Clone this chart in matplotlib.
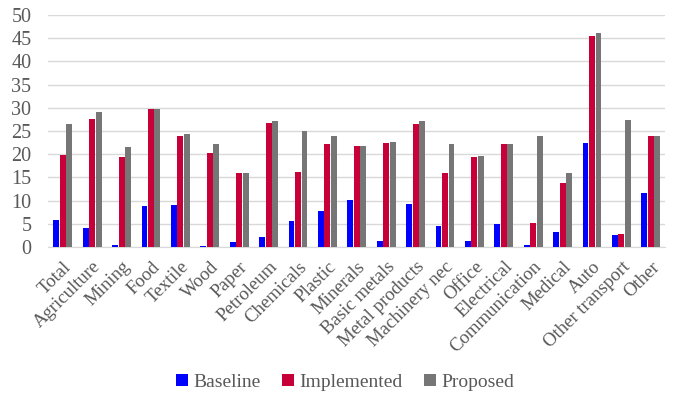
import matplotlib
matplotlib.use("Agg")
import matplotlib.pyplot as plt
import numpy as np

sectors = ["Total", "Agriculture", "Mining", "Food", "Textile", "Wood", "Paper",
           "Petroleum", "Chemicals", "Plastic", "Minerals", "Basic metals",
           "Metal products", "Machinery nec", "Office", "Electrical",
           "Communication", "Medical", "Auto", "Other transport", "Other"]
baseline = [5.8, 4.1, 0.5, 8.8, 9.1, 0.2, 1.1, 2.2, 5.6, 7.8, 10.1, 1.3,
            9.3, 4.5, 1.3, 5.0, 0.4, 3.2, 22.4, 2.6, 11.6]
implemented = [19.8, 27.6, 19.4, 29.7, 23.9, 20.3, 15.9, 26.7, 16.2, 22.2, 21.8, 22.4,
               26.5, 15.9, 19.4, 22.2, 5.2, 13.8, 45.5, 2.8, 23.9]
proposed = [26.5, 29.1, 21.6, 29.7, 24.4, 22.2, 15.9, 27.2, 25.0, 23.9, 21.8, 22.6,
            27.2, 22.2, 19.6, 22.2, 23.9, 15.9, 46.1, 27.4, 23.9]

plt.rcParams['font.family'] = ['Liberation Serif', 'DejaVu Serif']

fig = plt.figure(figsize=(6.77, 3.96), dpi=100)
ax = fig.add_axes([0.071, 0.376, 0.912, 0.586])

x = np.arange(len(sectors))
w = 0.2
ax.bar(x - 0.22, baseline, w, color='#0000FF', label='Baseline', zorder=3)
ax.bar(x, implemented, w, color='#C8003A', label='Implemented', zorder=3)
ax.bar(x + 0.22, proposed, w, color='#767676', label='Proposed', zorder=3)

ax.set_ylim(0, 50)
ax.set_yticks(range(0, 51, 5))
ax.set_xlim(-0.5, len(sectors) - 0.5)
ax.set_xticks(x)
ax.set_xticklabels(sectors, rotation=45, ha='right', rotation_mode='anchor')
ax.tick_params(axis='both', length=0, colors='#595959')
ax.tick_params(axis='x', labelsize=13.5, pad=8)
ax.tick_params(axis='y', labelsize=14.5, pad=12)
ax.grid(axis='y', color='#D9D9D9', linewidth=1, zorder=0)
for s in ['top', 'right', 'left']:
    ax.spines[s].set_visible(False)
ax.spines['bottom'].set_color('#D9D9D9')

fig.legend(loc='center', ncol=3, frameon=False, fontsize=14,
           bbox_to_anchor=(0.51, 0.035), handlelength=0.6, handleheight=0.6,
           columnspacing=1.1, handletextpad=0.3, labelcolor='#595959')

fig.savefig('out.png', dpi=100)
